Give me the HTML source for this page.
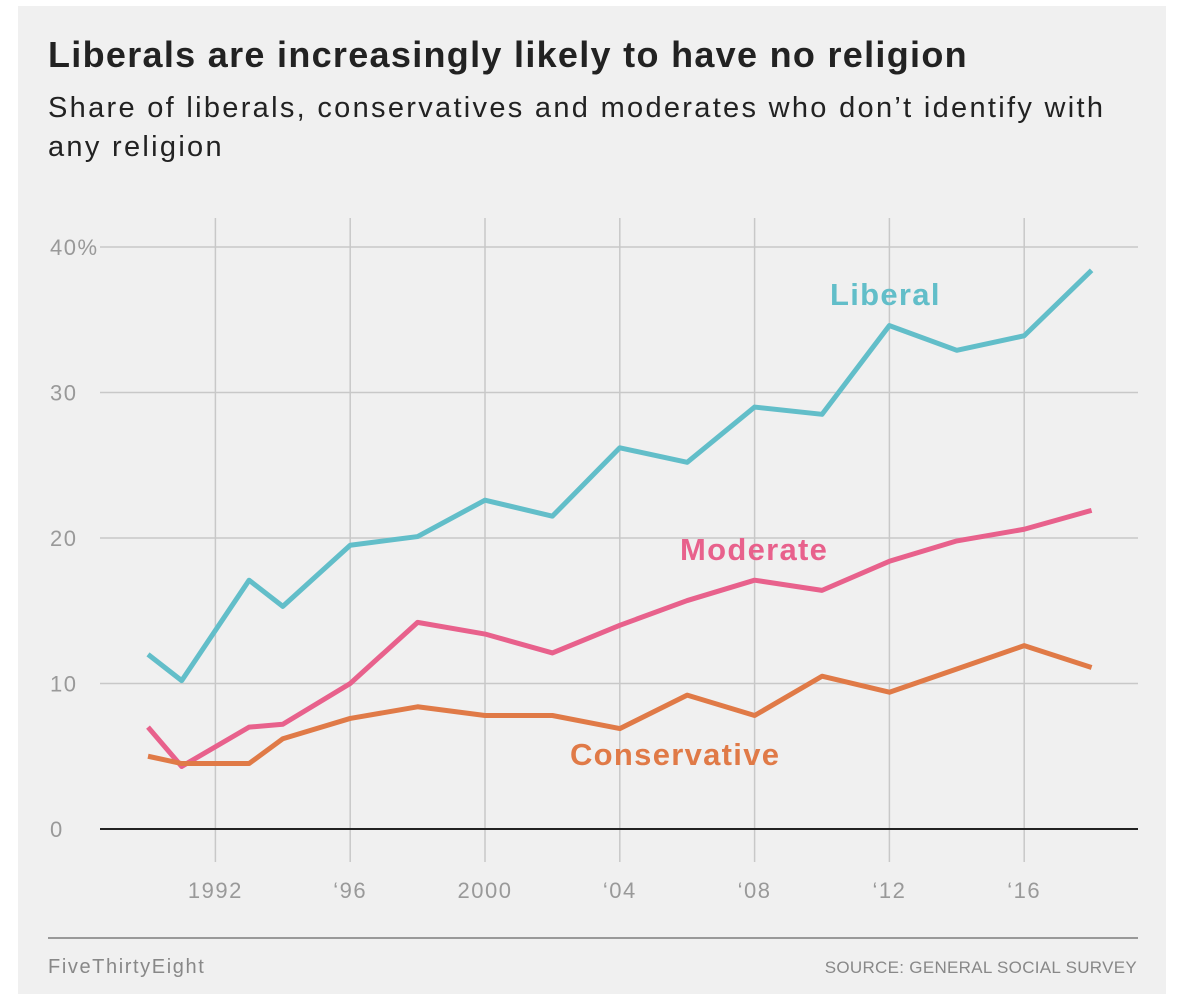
<!DOCTYPE html>
<html><head><meta charset="utf-8"><style>
body{margin:0;background:#fff;width:1182px;height:1000px;overflow:hidden;font-family:"Liberation Sans",sans-serif}
#card{position:absolute;left:18px;top:6px;width:1148px;height:988px;background:#f0f0f0}
</style></head><body>
<div id="card"></div>
<svg id="chart" width="1182" height="1000" style="position:absolute;left:0;top:0">
<text x="48" y="67" font-size="36" font-weight="bold" fill="#222" letter-spacing="1.3">Liberals are increasingly likely to have no religion</text>
<text x="48" y="117" font-size="29" fill="#222" letter-spacing="2.3">Share of liberals, conservatives and moderates who don’t identify with</text>
<text x="48" y="156" font-size="29" fill="#222" letter-spacing="2.3">any religion</text>
<g id="grid"></g><g id="lines"></g>
<line x1="48" x2="1138" y1="938" y2="938" stroke="#999" stroke-width="2"/>
<text x="48" y="973" font-size="20" fill="#888" letter-spacing="1.6">FiveThirtyEight</text>
<text x="1137" y="973" font-size="17" fill="#888" text-anchor="end" letter-spacing="0.3">SOURCE: GENERAL SOCIAL SURVEY</text>
</svg>
<script>
const years=[1990,1991,1993,1994,1996,1998,2000,2002,2004,2006,2008,2010,2012,2014,2016,2018];
const liberal=[12.0,10.2,17.1,15.3,19.5,20.1,22.6,21.5,26.2,25.2,29.0,28.5,34.6,32.9,33.9,38.4];
const moderate=[7.0,4.3,7.0,7.2,10.0,14.2,13.4,12.1,14.0,15.7,17.1,16.4,18.4,19.8,20.6,21.9];
const conservative=[5.0,4.5,4.5,6.2,7.6,8.4,7.8,7.8,6.9,9.2,7.8,10.5,9.4,11.0,12.6,11.1];
const yTicks=[0,10,20,30,40];
const yTickLabels=["0","10","20","30","40%"];
const xTicks=[1992,1996,2000,2004,2008,2012,2016];
const xTickLabels=["1992","‘96","2000","‘04","‘08","‘12","‘16"];
const x=v=>148+(v-1990)*33.7;
const y=v=>829-v*14.55;
const NS="http://www.w3.org/2000/svg";
function mk(p,t,a){const e=document.createElementNS(NS,t);for(const k in a)e.setAttribute(k,a[k]);p.appendChild(e);return e;}
const g=document.getElementById('grid'),L=document.getElementById('lines');
xTicks.forEach((t,i)=>{
 const l=mk(g,'line',{x1:x(t),x2:x(t),y1:218,y2:862,stroke:'#c8c8c8','stroke-width':1.5});
 
 
 const tx=mk(g,'text',{x:x(t),y:898,'font-size':22,fill:'#999','text-anchor':'middle','letter-spacing':1.5});
 tx.textContent=xTickLabels[i];
 
 
});
yTicks.forEach((t,i)=>{
 const l=mk(g,'line',{x1:100,x2:1138,y1:y(t),y2:y(t),stroke:t===0?'#222':'#c8c8c8','stroke-width':t===0?2:1.5});
 
 
 const tx=mk(g,'text',{x:50,y:y(t)+8,'font-size':22,fill:'#999','letter-spacing':1.5});
 tx.textContent=yTickLabels[i];
 
 
});
const series=[[liberal,'#62bec9','liberal-line','Liberal',830,305],[moderate,'#e8618c','moderate-line','Moderate',680,560],[conservative,'#e07a47','conservative-line','Conservative',570,765]];
series.forEach(s=>{
 const p=mk(L,'polyline',{points:years.map((yr,i)=>x(yr)+','+y(s[0][i])).join(' '),fill:'none',stroke:s[1],'stroke-width':5,'stroke-linejoin':'round'});
 
 
 const t=mk(L,'text',{x:s[4],y:s[5],'font-size':31,'font-weight':'bold',fill:s[1],'letter-spacing':1.3});
 t.textContent=s[3];
 
 
});
</script>
</body></html>
